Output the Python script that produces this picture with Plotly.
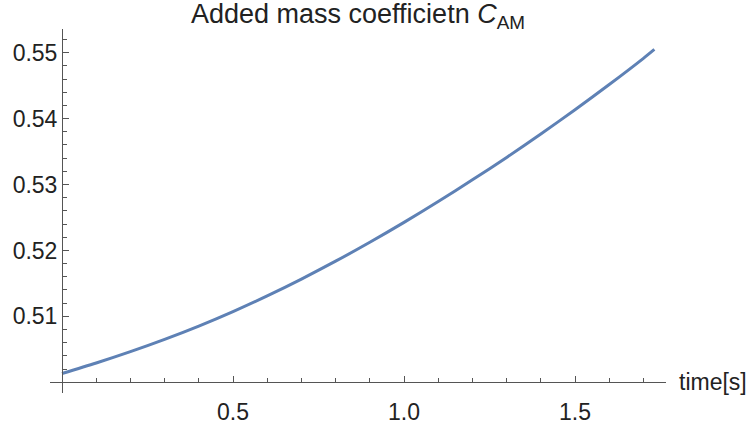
import plotly.graph_objects as go

# Data
time_s = [0.0, 0.1, 0.2, 0.3, 0.4, 0.5, 0.6, 0.7, 0.8, 0.9, 1.0,
          1.1, 1.2, 1.3, 1.4, 1.5, 1.6, 1.7, 1.732]
c_am = [0.50133, 0.50293, 0.50465, 0.50651, 0.50853, 0.51073, 0.51311,
        0.51566, 0.51837, 0.52124, 0.52426, 0.52742, 0.53071, 0.53412,
        0.53767, 0.54135, 0.54517, 0.54915, 0.55050]

x_tickvals = [0.5, 1.0, 1.5]
x_ticktext = ["0.5", "1.0", "1.5"]
y_tickvals = [0.51, 0.52, 0.53, 0.54, 0.55]
y_ticktext = ["0.51", "0.52", "0.53", "0.54", "0.55"]

title_text = "Added mass coefficietn <i>C</i><sub>AM</sub>"
x_label = "time[s]"

x_range = [-0.0351, 1.766]
y_range = [0.49837, 0.5536]

axis_color = "#555555"
text_color = "#222222"
font_family = "Liberation Sans, Arial, Helvetica, sans-serif"

fig = go.Figure()
fig.add_trace(go.Scatter(
    x=time_s, y=c_am, mode="lines",
    line=dict(color="#5E81B5", width=3, shape="spline", smoothing=0.8),
    hoverinfo="skip", showlegend=False,
))

x_pos = (0.5 - y_range[0]) / (y_range[1] - y_range[0])
y_pos = (0.0 - x_range[0]) / (x_range[1] - x_range[0])

fig.update_layout(
    width=750, height=437,
    margin=dict(l=50, r=84, t=29, b=25),
    paper_bgcolor="white", plot_bgcolor="white",
    font=dict(family=font_family, size=23, color=text_color),
    title=dict(text=title_text, x=0.5, xref="paper", xanchor="center",
               y=1 - 14 / 437, yref="container", yanchor="middle",
               font=dict(size=27, color=text_color)),
    xaxis=dict(
        range=x_range, anchor="free", position=x_pos,
        showline=True, linecolor=axis_color, linewidth=1,
        showgrid=False, zeroline=False,
        tickmode="array", tickvals=x_tickvals, ticktext=x_ticktext,
        ticks="inside", ticklen=6, tickwidth=1, tickcolor=axis_color,
        ticklabelstandoff=9,
        minor=dict(tick0=0, dtick=0.1, ticks="inside", ticklen=4,
                   tickwidth=1, tickcolor=axis_color, showgrid=False),
        tickfont=dict(size=23, color=text_color),
    ),
    yaxis=dict(
        range=y_range, anchor="free", position=y_pos,
        showline=True, linecolor=axis_color, linewidth=1,
        showgrid=False, zeroline=False,
        tickmode="array", tickvals=y_tickvals, ticktext=y_ticktext,
        ticks="inside", ticklen=6, tickwidth=1, tickcolor=axis_color,
        ticklabelstandoff=0,
        minor=dict(tick0=0.5, dtick=0.002, ticks="inside", ticklen=4,
                   tickwidth=1, tickcolor=axis_color, showgrid=False),
        tickfont=dict(size=23, color=text_color),
    ),
    annotations=[dict(
        text=x_label, xref="paper", yref="paper", x=1, y=x_pos,
        xanchor="left", yanchor="middle", xshift=11, yshift=0,
        showarrow=False, font=dict(size=23, color=text_color),
    )],
)

fig.write_html("out.html")
